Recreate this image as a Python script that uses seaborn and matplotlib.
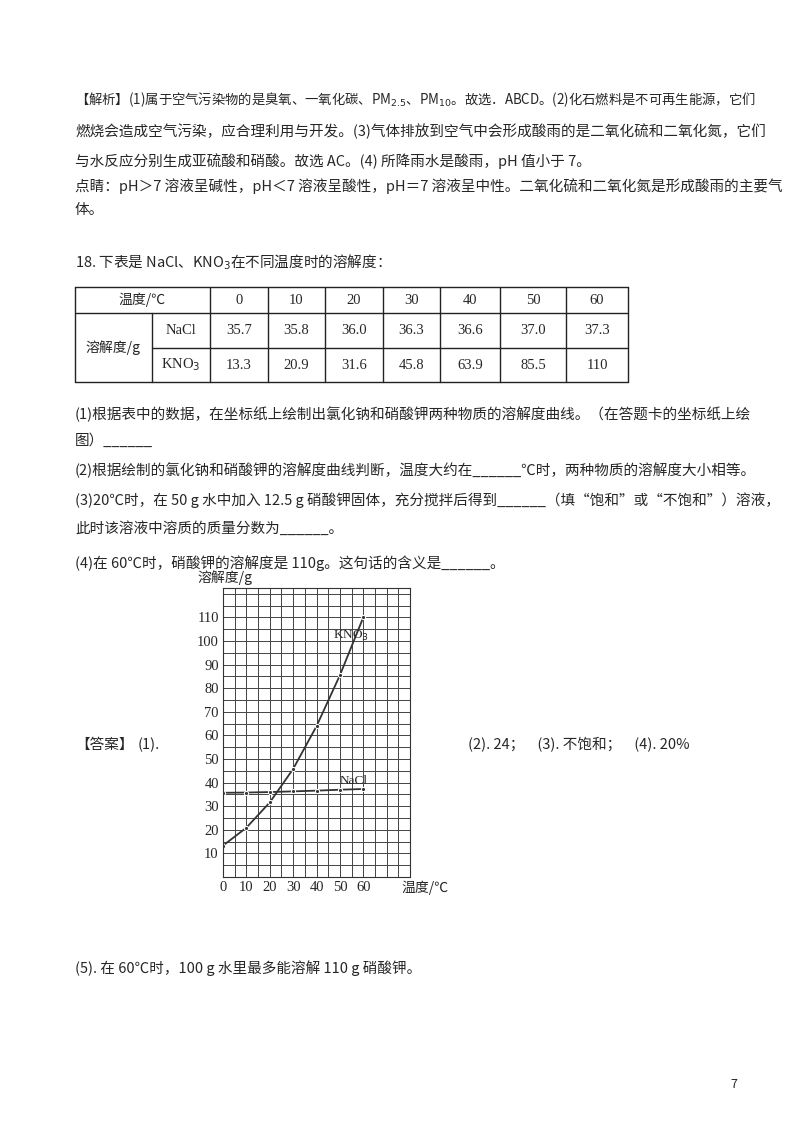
import matplotlib
matplotlib.use('Agg')
import matplotlib.pyplot as plt
import seaborn as sns
import pandas as pd

sns.set_style("white")
plt.rcParams['font.family'] = ['Noto Sans CJK SC', 'DejaVu Sans']
plt.rcParams['mathtext.fontset'] = 'dejavusans'

# data
temps = [0, 10, 20, 30, 40, 50, 60]
nacl = [35.7, 35.8, 36.0, 36.3, 36.6, 37.0, 37.3]
kno3 = [13.3, 20.9, 31.6, 45.8, 63.9, 85.5, 110]

W, H = 800, 1132
fig = plt.figure(figsize=(8, 11.32), dpi=100)


def px(x, y):
    return x / W, 1 - y / H


def put(x, y, s, size=10.5, **kw):
    fig.text(*px(x, y), s, fontsize=size, va='center', ha=kw.pop('ha', 'left'), **kw)


lines = [
    (100, "【解析】(1)属于空气污染物的是臭氧、一氧化碳、PM$_{2.5}$、PM$_{10}$。故选．ABCD。(2)化石燃料是不可再生能源，它们", 9.6),
    (131, "燃烧会造成空气污染，应合理利用与开发。(3)气体排放到空气中会形成酸雨的是二氧化硫和二氧化氮，它们", 10.5),
    (161, "与水反应分别生成亚硫酸和硝酸。故选 AC。(4) 所降雨水是酸雨，pH 值小于 7。", 10.5),
    (186, "点睛：pH＞7 溶液呈碱性，pH＜7 溶液呈酸性，pH＝7 溶液呈中性。二氧化硫和二氧化氮是形成酸雨的主要气", 10.5),
    (210, "体。", 10.5),
    (262, "18. 下表是 NaCl、KNO$_3$在不同温度时的溶解度：", 10.5),
    (414, "(1)根据表中的数据，在坐标纸上绘制出氯化钠和硝酸钾两种物质的溶解度曲线。（在答题卡的坐标纸上绘", 10.5),
    (441, "图）______", 10.5),
    (470, "(2)根据绘制的氯化钠和硝酸钾的溶解度曲线判断，温度大约在______℃时，两种物质的溶解度大小相等。", 10.5),
    (500, "(3)20℃时，在 50 g 水中加入 12.5 g 硝酸钾固体，充分搅拌后得到______（填“饱和”或“不饱和”）溶液，", 10.5),
    (528, "此时该溶液中溶质的质量分数为______。", 10.5),
    (563, "(4)在 60℃时，硝酸钾的溶解度是 110g。这句话的含义是______。", 10.5),
    (968, "(5). 在 60℃时，100 g 水里最多能溶解 110 g 硝酸钾。", 10.5),
]
for y, s, fs in lines:
    put(75, y, s, size=fs)

put(75, 745, "【答案】")
put(138, 745, "(1).")
put(468, 745, "(2). 24；    (3). 不饱和；    (4). 20%")
put(730, 1085, "7", size=9)

# table
tx = [75, 152, 210, 268, 325, 383, 440, 500, 566, 628]
ty = [287, 313, 348, 382]
col = '#222222'
for y in ty:
    xs = tx[0] if y in (287, 313, 382) else tx[1]
    fig.add_artist(plt.Line2D([px(xs, 0)[0], px(tx[-1], 0)[0]], [px(0, y)[1]] * 2, color=col, lw=1))
for i, x in enumerate(tx):
    y0 = 313 if i == 1 else 287
    fig.add_artist(plt.Line2D([px(x, 0)[0]] * 2, [px(0, y0)[1], px(0, 382)[1]], color=col, lw=1))
serif = ['Liberation Serif', 'Noto Sans CJK SC']
put(142, 300, "温度/℃", size=10, ha='center', family=['Noto Sans CJK SC'])
put(113, 348, "溶解度/g", size=10, ha='center', family=['Noto Sans CJK SC'])
put(181, 330, "NaCl", size=10.5, ha='center', family=serif)
put(181, 365, "KNO$_3$", size=10.5, ha='center', family=serif)
for i, t in enumerate(temps):
    cx = (tx[i + 2] + tx[i + 3]) / 2
    put(cx, 300, str(t), size=10.5, ha='center', family=serif)
    put(cx, 330, f"{nacl[i]:.1f}", size=10.5, ha='center', family=serif)
    put(cx, 365, f"{kno3[i]:g}", size=10.5, ha='center', family=serif)

# chart
l, r, t, b = 223, 410, 588, 877
ax = fig.add_axes([l / W, 1 - b / H, (r - l) / W, (b - t) / H])
df = pd.DataFrame({'温度': temps * 2, '溶解度': nacl + kno3,
                   '物质': ['NaCl'] * 7 + ['KNO3'] * 7})
sns.lineplot(data=df, x='温度', y='溶解度', hue='物质', palette=['#333333', '#333333'],
             marker='o', markersize=3, linewidth=1.3, legend=False, ax=ax)
ax.set_xlim(0, 80)
ax.set_ylim(0, 122.5)
ax.set_xticks(range(0, 61, 10))
ax.set_yticks(range(10, 111, 10))
ax.set_xticks(range(0, 81, 5), minor=True)
ax.set_yticks(range(0, 121, 5), minor=True)
ax.grid(which='both', color='#444444', lw=0.7)
ax.tick_params(length=0, labelsize=10.5, pad=3)
for lab in ax.get_xticklabels() + ax.get_yticklabels():
    lab.set_family('Liberation Serif')
for s in ax.spines.values():
    s.set_color('#333333')
ax.set_xlabel('')
ax.set_ylabel('')
ax.text(47, 101, "KNO$_3$", fontsize=9.5, family='Liberation Serif')
ax.text(50, 39.5, "NaCl", fontsize=9.5, family='Liberation Serif')
put(225, 578, "溶解度/g", size=10, ha='center')
put(425, 888, "温度/℃", size=10, ha='center')

fig.savefig('out.png', dpi=100)
